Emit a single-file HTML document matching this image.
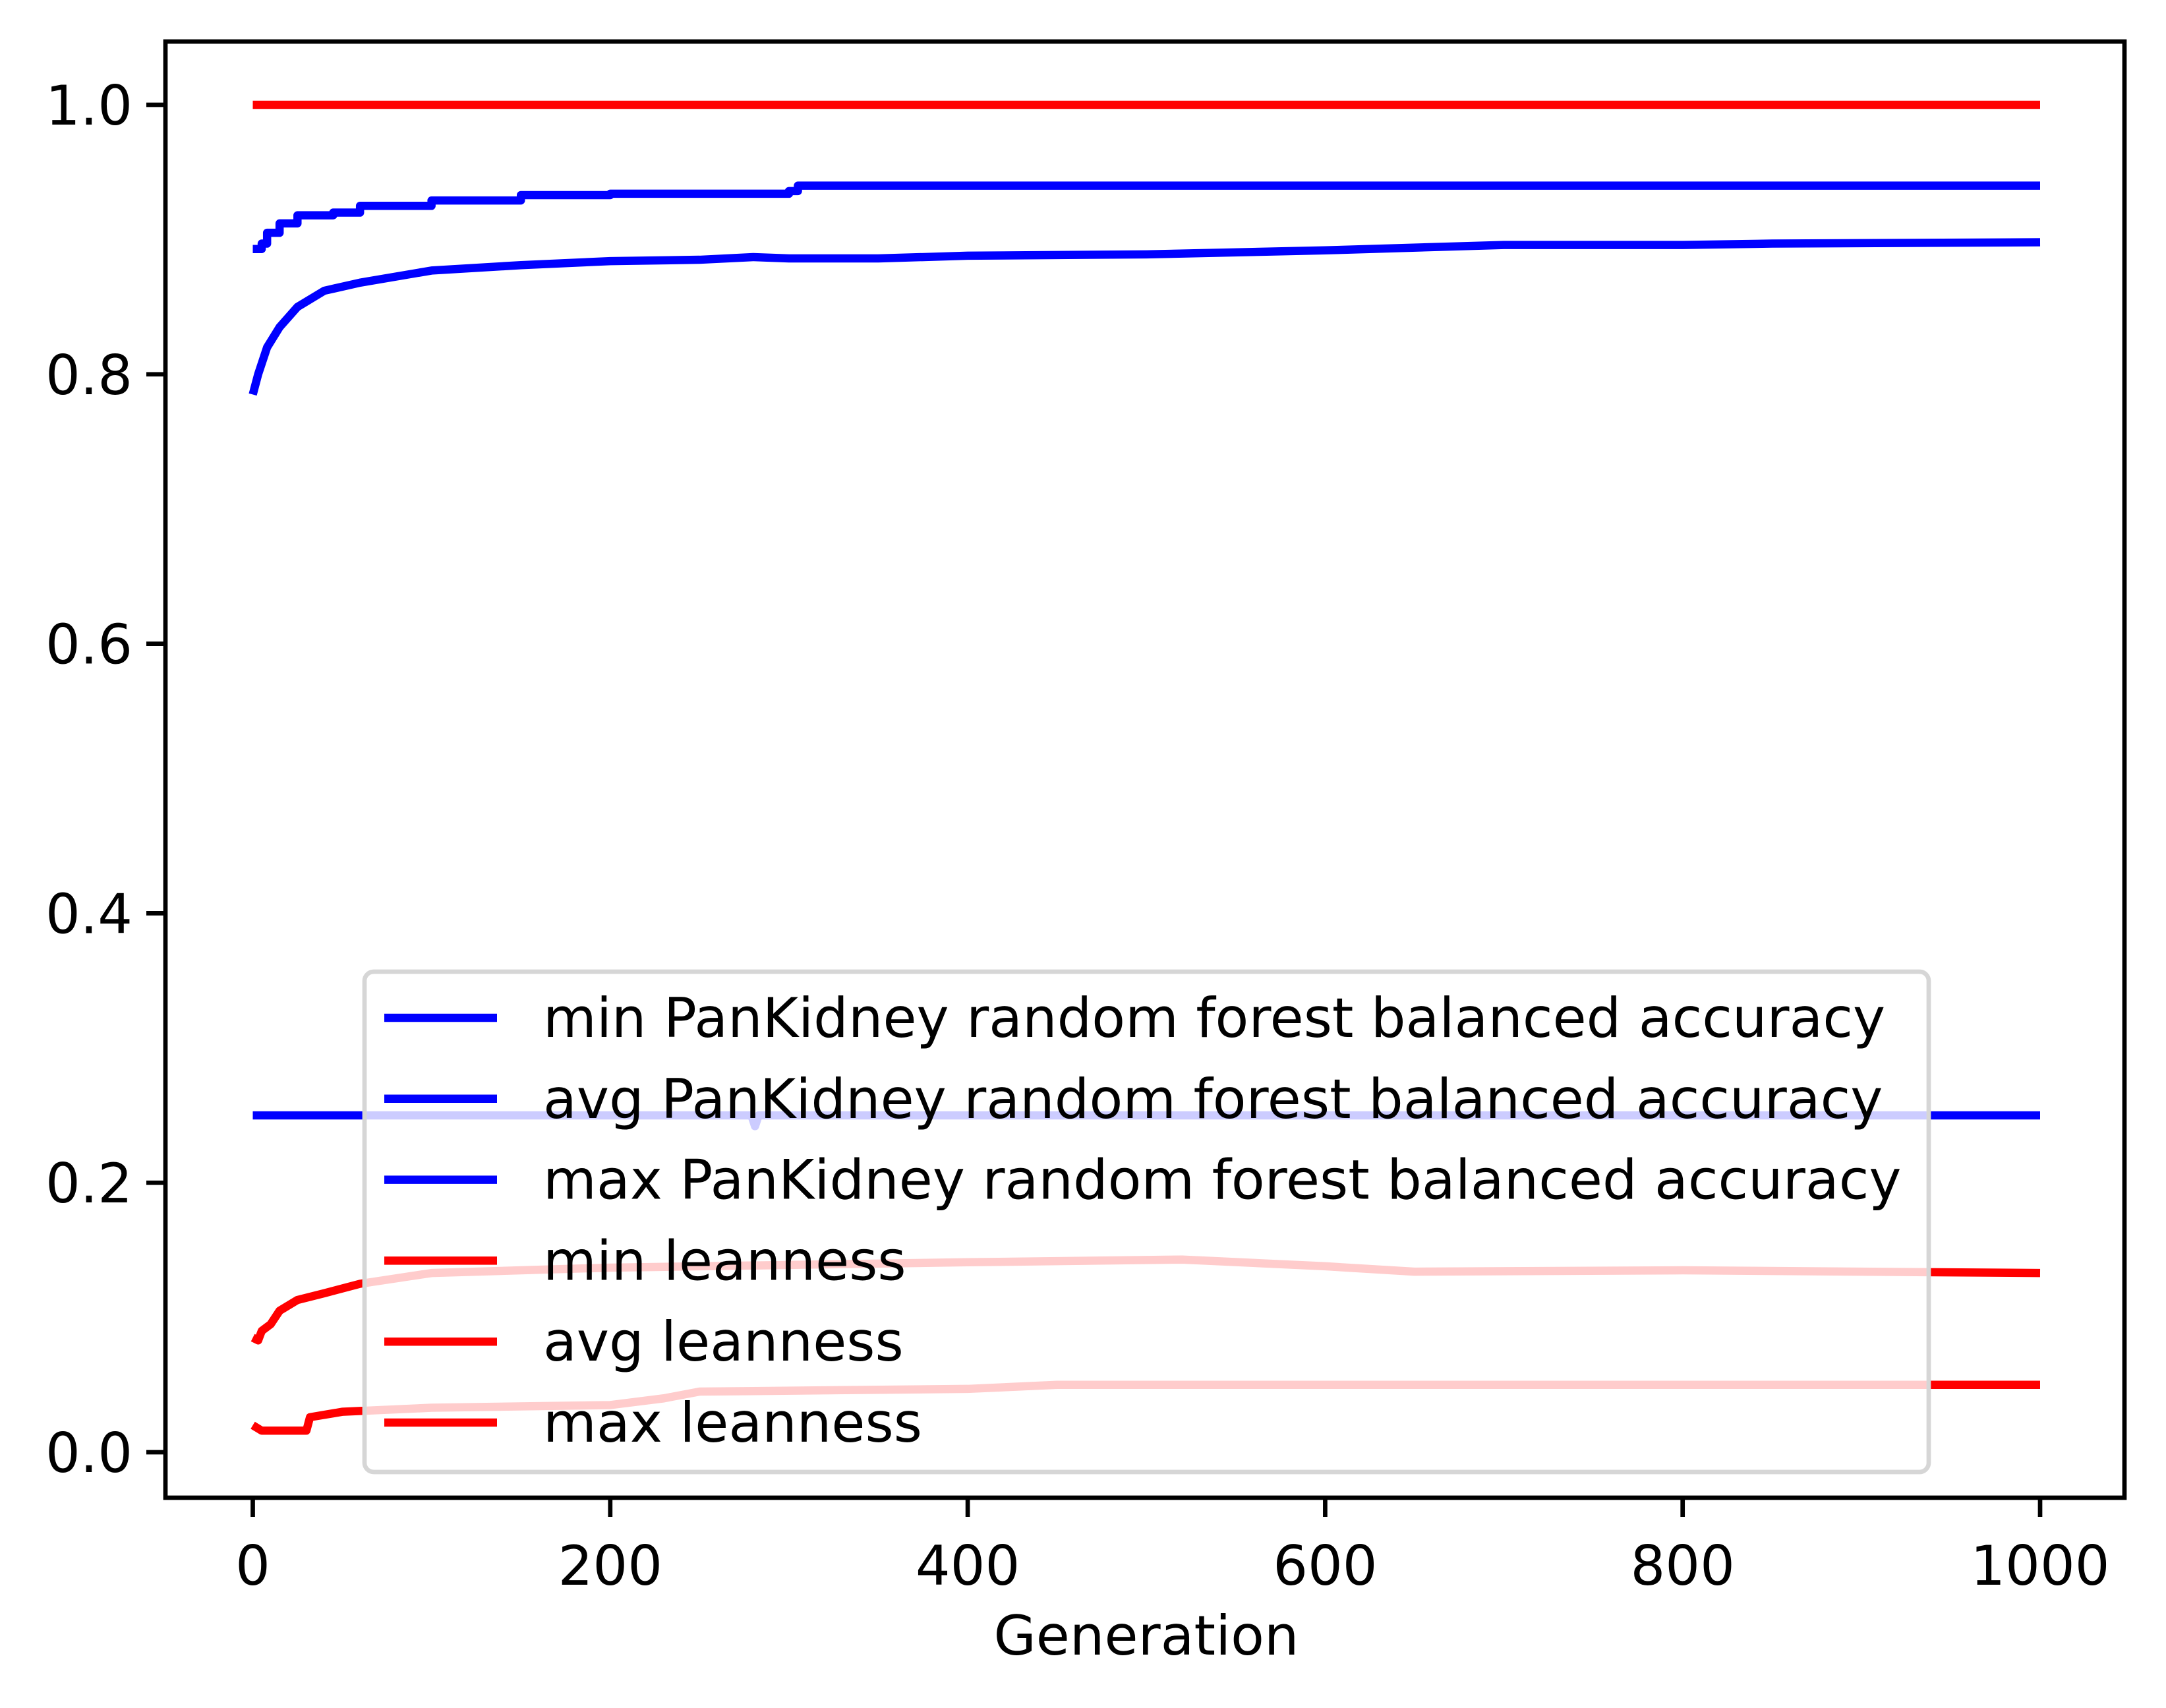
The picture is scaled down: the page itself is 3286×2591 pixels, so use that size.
<!DOCTYPE html>
<html><head><meta charset="utf-8"><style>
html,body{margin:0;padding:0;background:#fff;}
svg{display:block;font-family:"DejaVu Sans","Liberation Sans",sans-serif;}
</style></head><body>
<svg id="chart" width="3286" height="2591" viewBox="0 0 3286 2591" xmlns="http://www.w3.org/2000/svg">
<rect width="3286" height="2591" fill="#fff"/>
<g id="series"></g>
<g id="legend"></g>
<g id="axes"></g>
<text x="1739" y="2510" font-size="83" text-anchor="middle">Generation</text>
</svg>
<script>
const xTicks=[0,200,400,600,800,1000];
const yTicks=[0.0,0.2,0.4,0.6,0.8,1.0];
const yTickLabels=["0.0","0.2","0.4","0.6","0.8","1.0"];
const maxAccGen=[0,5,8,15,25,45,60,100,150,200,300,305,1000];
const maxAccVal=[0.893,0.897,0.905,0.912,0.918,0.920,0.925,0.929,0.933,0.934,0.936,0.940,0.940];
const avgAccGen=[0,3,8,15,25,40,60,100,150,200,250,280,300,350,400,500,600,700,800,850,1000];
const avgAccVal=[0.785,0.80,0.82,0.835,0.85,0.862,0.868,0.877,0.881,0.884,0.885,0.887,0.886,0.886,0.888,0.889,0.892,0.896,0.896,0.897,0.898];
const minAccGen=[0,279,281,283,1000];
const minAccVal=[0.25,0.25,0.242,0.25,0.25];
const maxLeanGen=[0,1000];
const maxLeanVal=[1.0,1.0];
const avgLeanGen=[0,3,5,10,15,25,40,60,100,200,300,400,520,600,650,800,1000];
const avgLeanVal=[0.085,0.083,0.09,0.095,0.105,0.113,0.118,0.125,0.133,0.137,0.139,0.141,0.143,0.138,0.134,0.135,0.133];
const minLeanGen=[0,5,30,32,50,100,200,230,250,400,450,1000];
const minLeanVal=[0.02,0.016,0.016,0.026,0.03,0.033,0.035,0.04,0.045,0.047,0.05,0.05];
const legendLabels=["min PanKidney random forest balanced accuracy","avg PanKidney random forest balanced accuracy","max PanKidney random forest balanced accuracy","min leanness","avg leanness","max leanness"];
const legendColors=["#0000ff","#0000ff","#0000ff","#ff0000","#ff0000","#ff0000"];

const L=251,R=3223,T=63,B=2272;
const X=g=>383.5+(3095-383.5)*g/1000;
const Y=v=>2203-(2203-159)*v;
const NS="http://www.w3.org/2000/svg";
function mk(tag,attrs,parent){const e=document.createElementNS(NS,tag);for(const k in attrs)e.setAttribute(k,attrs[k]);parent.appendChild(e);return e;}

const sg=document.getElementById('series');
function line(gens,vals,color,name,step){
  let pts=[];
  for(let i=0;i<gens.length;i++){
    if(step&&i>0)pts.push(X(gens[i])+","+Y(vals[i-1]));
    pts.push(X(gens[i])+","+Y(vals[i]));
  }
  const p=mk('polyline',{points:pts.join(' '),fill:'none',stroke:color,'stroke-width':12.5,'stroke-linejoin':'round'},sg);
  
  
}
line(minAccGen,minAccVal,'#0000ff','min-accuracy-line',false);
line(avgAccGen,avgAccVal,'#0000ff','avg-accuracy-line',false);
line(maxAccGen,maxAccVal,'#0000ff','max-accuracy-line',true);
line(minLeanGen,minLeanVal,'#ff0000','min-leanness-line',false);
line(avgLeanGen,avgLeanVal,'#ff0000','avg-leanness-line',false);
line(maxLeanGen,maxLeanVal,'#ff0000','max-leanness-line',false);

const lg=document.getElementById('legend');
const fr=mk('rect',{x:553,y:1474,width:2373,height:759,rx:14,fill:'#fff','fill-opacity':0.8,stroke:'#d6d6d6','stroke-width':6.7},lg);


for(let i=0;i<legendLabels.length;i++){
  const y=1544+i*122.8;
  const h=mk('line',{x1:583,x2:754,y1:y,y2:y,stroke:legendColors[i],'stroke-width':12.5},lg);
  
  
  const t=mk('text',{x:824,y:y+29,'font-size':83},lg);
  t.textContent=legendLabels[i];
  
  
}

const ax=document.getElementById('axes');
const sp=mk('rect',{x:L,y:T,width:R-L,height:B-T,fill:'none',stroke:'#000','stroke-width':6.7},ax);


xTicks.forEach(g=>{
  const tk=mk('line',{x1:X(g),x2:X(g),y1:B,y2:B+29,stroke:'#000','stroke-width':6.7},ax);
  
  
  const t=mk('text',{x:X(g),y:B+132,'font-size':83,'text-anchor':'middle'},ax);
  t.textContent=String(g);
  
  
});
yTicks.forEach((v,i)=>{
  const tk=mk('line',{x1:L-29,x2:L,y1:Y(v),y2:Y(v),stroke:'#000','stroke-width':6.7},ax);
  
  
  const t=mk('text',{x:L-50,y:Y(v)+30,'font-size':83,'text-anchor':'end'},ax);
  t.textContent=yTickLabels[i];
  
  
});
</script>
</body></html>
